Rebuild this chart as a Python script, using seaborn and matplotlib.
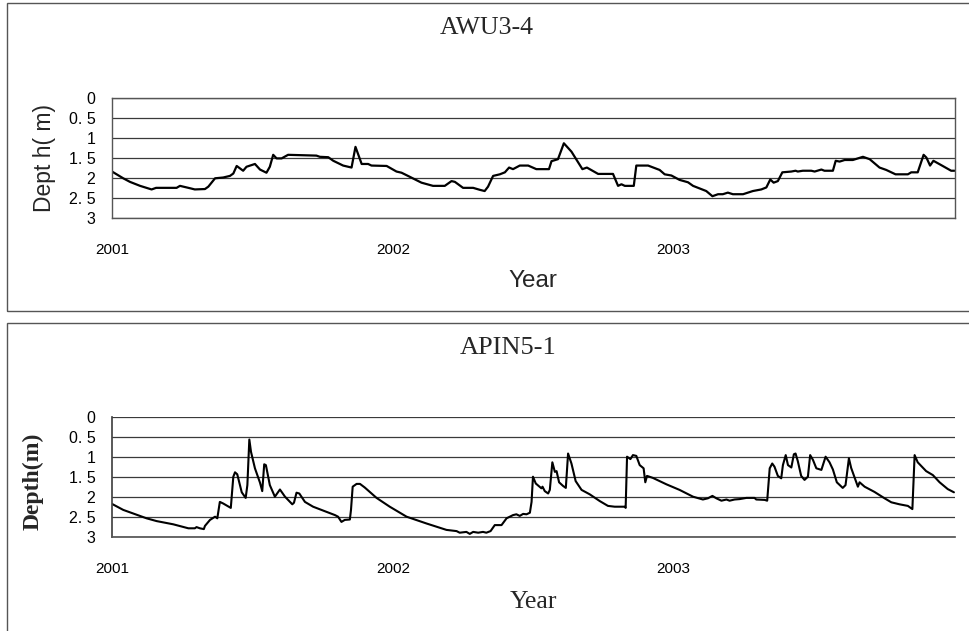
import numpy as np
import pandas as pd
import seaborn as sns
import matplotlib
matplotlib.use('Agg')
import matplotlib.pyplot as plt
from matplotlib.patches import Rectangle

# groundwater depth (decimal year, depth in m)
awu_year = [2001.000, 2001.040, 2001.064, 2001.100, 2001.141, 2001.157, 2001.230, 2001.242,
            2001.278, 2001.295, 2001.331, 2001.343, 2001.367, 2001.396, 2001.420, 2001.432,
            2001.444, 2001.467, 2001.479, 2001.509, 2001.527, 2001.550, 2001.562, 2001.574,
            2001.586, 2001.604, 2001.627, 2001.728, 2001.740, 2001.770, 2001.788, 2001.823,
            2001.853, 2001.867, 2001.889, 2001.912, 2001.924, 2001.978, 2002.013, 2002.031,
            2002.054, 2002.102, 2002.143, 2002.185, 2002.209, 2002.221, 2002.250, 2002.286,
            2002.310, 2002.327, 2002.339, 2002.357, 2002.381, 2002.399,
            2002.414, 2002.428, 2002.452, 2002.482, 2002.511, 2002.556, 2002.565, 2002.588,
            2002.609, 2002.636, 2002.675, 2002.691, 2002.731, 2002.784, 2002.802, 2002.814,
            2002.826, 2002.858, 2002.867, 2002.909, 2002.950, 2002.968, 2002.992, 2003.021,
            2003.051, 2003.069, 2003.116, 2003.138, 2003.158, 2003.175, 2003.193, 2003.211,
            2003.247, 2003.282, 2003.312, 2003.330, 2003.344, 2003.356, 2003.371, 2003.387,
            2003.419, 2003.434, 2003.442, 2003.460, 2003.490, 2003.502, 2003.526, 2003.537,
            2003.567, 2003.577, 2003.591, 2003.609, 2003.638, 2003.674, 2003.698, 2003.733,
            2003.757, 2003.790, 2003.834, 2003.846, 2003.869, 2003.890, 2003.900, 2003.913,
            2003.925, 2003.958, 2003.988, 2004.000]
awu_depth = [1.84, 2.01, 2.10, 2.20, 2.29, 2.25, 2.25, 2.20,
             2.26, 2.29, 2.28, 2.22, 2.01, 1.99, 1.95, 1.89,
             1.70, 1.82, 1.72, 1.65, 1.79, 1.87, 1.72, 1.42,
             1.51, 1.51, 1.42, 1.44, 1.47, 1.48, 1.57, 1.69,
             1.74, 1.22, 1.65, 1.65, 1.69, 1.70, 1.84, 1.87,
             1.95, 2.12, 2.20, 2.20, 2.08, 2.10, 2.25, 2.25,
             2.30, 2.33, 2.22, 1.95, 1.91, 1.86,
             1.74, 1.78, 1.69, 1.69, 1.78, 1.78, 1.58, 1.53,
             1.13, 1.34, 1.78, 1.74, 1.90, 1.90, 2.20, 2.16,
             2.20, 2.20, 1.69, 1.69, 1.80, 1.91, 1.94, 2.05,
             2.11, 2.20, 2.33, 2.46, 2.41, 2.41, 2.37, 2.41,
             2.41, 2.33, 2.29, 2.24, 2.04, 2.12, 2.08, 1.86,
             1.84, 1.82, 1.84, 1.82, 1.82, 1.84, 1.79, 1.82,
             1.82, 1.57, 1.59, 1.55, 1.55, 1.47, 1.53, 1.74,
             1.80, 1.91, 1.91, 1.86, 1.86, 1.42, 1.49, 1.69,
             1.57, 1.70, 1.82, 1.82]

apin_year = [2001.000, 2001.040, 2001.076, 2001.123, 2001.159, 2001.218, 2001.272, 2001.295,
             2001.301, 2001.313, 2001.327, 2001.331, 2001.349, 2001.367, 2001.375, 2001.384,
             2001.396, 2001.423, 2001.432, 2001.438, 2001.446, 2001.462, 2001.476, 2001.482,
             2001.489, 2001.495, 2001.509, 2001.527, 2001.535, 2001.542, 2001.548, 2001.562,
             2001.580, 2001.598, 2001.616, 2001.642, 2001.648, 2001.657, 2001.667, 2001.687,
             2001.716, 2001.746, 2001.794, 2001.805, 2001.817, 2001.829, 2001.847, 2001.851,
             2001.857, 2001.871, 2001.883, 2001.900, 2001.942, 2001.989, 2002.049, 2002.120,
             2002.191, 2002.227, 2002.238, 2002.262, 2002.274, 2002.286, 2002.304, 2002.321,
             2002.333, 2002.348, 2002.363, 2002.387, 2002.405, 2002.428, 2002.440, 2002.452,
             2002.464, 2002.476, 2002.488, 2002.494, 2002.499, 2002.509, 2002.529, 2002.533,
             2002.541, 2002.553, 2002.559, 2002.568, 2002.577, 2002.583, 2002.592, 2002.606,
             2002.616, 2002.624, 2002.636, 2002.651, 2002.672, 2002.701, 2002.737, 2002.766,
             2002.790, 2002.826, 2002.829, 2002.834, 2002.846, 2002.855, 2002.867, 2002.879,
             2002.893, 2002.899, 2002.905, 2002.926, 2002.974, 2003.021, 2003.069, 2003.104,
             2003.122, 2003.138, 2003.152, 2003.170, 2003.188, 2003.199, 2003.217, 2003.235,
             2003.259, 2003.288, 2003.294, 2003.324, 2003.333, 2003.342, 2003.351, 2003.359,
             2003.371, 2003.383, 2003.389, 2003.399, 2003.407, 2003.419, 2003.428, 2003.434,
             2003.442, 2003.454, 2003.466, 2003.478, 2003.486, 2003.496, 2003.508, 2003.526,
             2003.541, 2003.555, 2003.567, 2003.581, 2003.602, 2003.612, 2003.624, 2003.632,
             2003.650, 2003.656, 2003.662, 2003.680, 2003.715, 2003.751, 2003.775, 2003.804,
             2003.834, 2003.850, 2003.858, 2003.869, 2003.899, 2003.923, 2003.947, 2003.976,
             2003.998]
apin_depth = [2.18, 2.33, 2.42, 2.54, 2.61, 2.69, 2.79, 2.79,
              2.76, 2.79, 2.81, 2.73, 2.58, 2.50, 2.54, 2.13,
              2.17, 2.28, 1.50, 1.39, 1.44, 1.89, 2.03, 1.71,
              0.57, 0.88, 1.29, 1.65, 1.86, 1.19, 1.21, 1.71,
              2.00, 1.82, 2.00, 2.19, 2.15, 1.90, 1.92, 2.13,
              2.25, 2.33, 2.46, 2.50, 2.63, 2.58, 2.57, 2.33,
              1.75, 1.68, 1.68, 1.77, 2.03, 2.25, 2.50, 2.67,
              2.83, 2.86, 2.90, 2.88, 2.93, 2.88, 2.90, 2.88,
              2.90, 2.86, 2.71, 2.71, 2.54, 2.46, 2.44, 2.48,
              2.43, 2.44, 2.40, 2.13, 1.50, 1.67, 1.79, 1.75,
              1.86, 1.92, 1.83, 1.14, 1.38, 1.36, 1.64, 1.73,
              1.78, 0.92, 1.17, 1.61, 1.83, 1.94, 2.11, 2.23,
              2.25, 2.25, 2.28, 1.00, 1.06, 0.96, 0.98, 1.21,
              1.29, 1.64, 1.48, 1.53, 1.69, 1.83, 2.00, 2.07,
              2.04, 1.98, 2.04, 2.10, 2.07, 2.10, 2.07, 2.06,
              2.03, 2.03, 2.07, 2.08, 2.10, 1.29, 1.17, 1.25,
              1.48, 1.54, 1.21, 0.96, 1.21, 1.27, 0.94, 0.92,
              1.11, 1.48, 1.58, 1.50, 0.96, 1.08, 1.29, 1.33,
              1.00, 1.14, 1.32, 1.64, 1.78, 1.71, 1.04, 1.28,
              1.63, 1.75, 1.64, 1.75, 1.88, 2.04, 2.14, 2.19,
              2.23, 2.31, 0.96, 1.14, 1.36, 1.46, 1.64, 1.81,
              1.89]

depth_ticks = [0, 0.5, 1, 1.5, 2, 2.5, 3]
depth_labels = ["0", "0. 5", "1", "1. 5", "2", "2. 5", "3"]
year_ticks = [2001, 2002, 2003]
year_labels = ["2001", "2002", "2003"]

awu = pd.DataFrame({'year': awu_year, 'depth': awu_depth})
apin = pd.DataFrame({'year': apin_year, 'depth': apin_depth})

sns.set_theme(style='white')
plt.rcParams['font.family'] = ['Liberation Sans', 'DejaVu Sans']
SERIF = ['Liberation Serif', 'DejaVu Serif']

W, H = 970, 631
fig = plt.figure(figsize=(W / 100, H / 100), dpi=100)


def px_box(left, top, right, bottom):
    return [left / W, 1 - bottom / H, (right - left) / W, (bottom - top) / H]


# outer frames around each chart
fig.add_artist(Rectangle((6.7 / W, 1 - 311 / H), 1.0, (311 - 3) / H, transform=fig.transFigure,
                         fill=False, edgecolor='#555555', linewidth=1.0))
fig.add_artist(Rectangle((6.7 / W, -0.05), 1.0, 0.05 + 1 - 323 / H, transform=fig.transFigure,
                         fill=False, edgecolor='#555555', linewidth=1.0))

ax1 = fig.add_axes(px_box(112, 98.3, 954.5, 217.7))
ax2 = fig.add_axes(px_box(112, 416.7, 954.5, 536.7))


def style_axis(ax):
    ax.set_xlim(2001, 2004)
    ax.set_ylim(3, 0)
    ax.set_yticks(depth_ticks)
    ax.set_yticklabels(depth_labels, fontsize=11.5)
    ax.set_xticks(year_ticks)
    ax.set_xticklabels(year_labels, fontsize=11)
    ax.tick_params(axis='x', length=0, pad=18, colors='black')
    ax.tick_params(axis='y', direction='in', length=4, width=0.8, pad=12, colors='black')
    ax.grid(axis='y', color='#3a3a3a', linewidth=0.9)
    ax.grid(axis='x', visible=False)


sns.lineplot(data=awu, x='year', y='depth', estimator=None, color='black',
             linewidth=1.6, ax=ax1)
style_axis(ax1)
for side in ['left', 'right', 'top', 'bottom']:
    ax1.spines[side].set_color('#555555')
    ax1.spines[side].set_linewidth(1.0)
ax1.set_title("AWU3-4", family=SERIF, fontsize=18.5, x=0.445, y=1.52, va='center')
ax1.set_xlabel("Year", fontsize=17.5, va='center')
ax1.xaxis.set_label_coords(0.499, -0.53)
ax1.set_ylabel("Dept h( m)", fontsize=16.5, va='center')
ax1.yaxis.set_label_coords(-0.0796, 0.5)

sns.lineplot(data=apin, x='year', y='depth', estimator=None, color='black',
             linewidth=1.5, ax=ax2)
style_axis(ax2)
ax2.spines['top'].set_visible(False)
ax2.spines['right'].set_visible(False)
ax2.spines['left'].set_color('#444444')
ax2.spines['bottom'].set_color('#555555')
ax2.set_title("APIN5-1", family=SERIF, fontsize=19, x=0.47, y=1.5, va='center')
ax2.set_xlabel("Year", family=SERIF, fontsize=18.5, va='center')
ax2.xaxis.set_label_coords(0.5, -0.544)
ax2.set_ylabel("Depth(m)", family=SERIF, fontsize=17, fontweight='bold', va='center')
ax2.yaxis.set_label_coords(-0.094, 0.46)

plt.savefig("out.png", dpi=100)
